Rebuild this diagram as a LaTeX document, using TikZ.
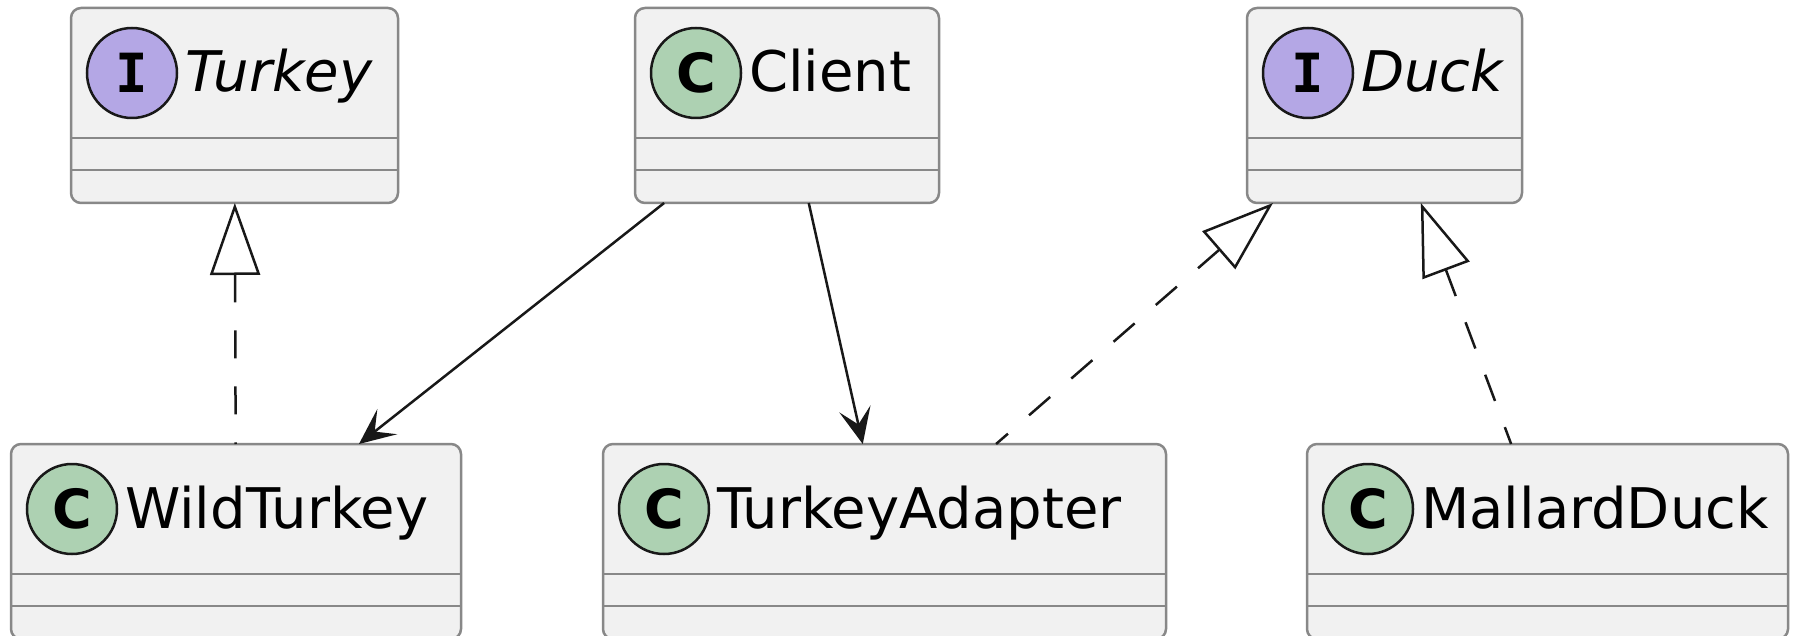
\documentclass[tikz,border=0pt]{standalone}
\usepackage{fontspec}
\setmainfont{DejaVu Sans}
\newfontfamily\badgefont{DejaVu Sans Mono}
\usetikzlibrary{arrows.meta}
\definecolor{boxfill}{HTML}{F1F1F1}
\definecolor{boxline}{HTML}{888888}
\definecolor{inkline}{HTML}{181818}
\definecolor{classgreen}{HTML}{ADD1B2}
\definecolor{ifacepurple}{HTML}{B4A7E5}
\tikzset{
  umlbox/.style={draw=boxline, fill=boxfill, line width=2.5pt, rounded corners=10pt,
    minimum height=195pt, inner sep=0pt, outer sep=0pt, anchor=north west},
  badge/.style={circle, draw=inkline, line width=2.5pt, minimum size=90pt, inner sep=0pt,
    font=\bfseries\fontsize{54}{54}\selectfont},
  title/.style={anchor=base west, inner sep=0pt, font=\fontsize{56}{60}\selectfont},
  uses/.style={draw=inkline, line width=2.5pt,
    -{Stealth[length=36pt, width=32pt, inset=16pt]}},
  realizes/.style={draw=inkline, line width=2.5pt, dash pattern=on 28pt off 28pt,
    {Triangle[open, length=72pt, width=50pt, fill=white]}-}
}
% name, left, top, width, letter, colour, title
\newcommand{\umlclass}[7]{%
  \node[umlbox, minimum width=#4pt] (#1) at (#2,#3) {};
  \draw[boxline, line width=2.5pt]
    ([yshift=-130pt]#1.north west) -- ([yshift=-130pt]#1.north east);
  \draw[boxline, line width=2.5pt]
    ([yshift=-162pt]#1.north west) -- ([yshift=-162pt]#1.north east);
  \node[badge, fill=#6] (#1-badge) at ([xshift=61pt, yshift=-65pt]#1.north west) {#5};
  \node[title] (#1-title) at ([xshift=114pt, yshift=-84pt]#1.north west) {#7};
}
\begin{document}
\begin{tikzpicture}[x=1pt, y=-1pt]
  \useasboundingbox (0,0) rectangle (1795,636);
  % interfaces and classes
  \umlclass{turkey}{71}{8}{327}{\badgefont I}{ifacepurple}{\itshape Turkey}
  \umlclass{client}{635}{8}{304}{C}{classgreen}{Client}
  \umlclass{duck}{1247}{8}{275}{\badgefont I}{ifacepurple}{\itshape Duck}
  \umlclass{wildturkey}{11}{444}{450}{C}{classgreen}{WildTurkey}
  \umlclass{adapter}{603}{444}{563}{C}{classgreen}{TurkeyAdapter}
  \umlclass{mallard}{1307}{444}{481}{C}{classgreen}{MallardDuck}
  % links
  \draw[realizes] (turkey) -- (wildturkey);
  \draw[uses] (client) -- (wildturkey);
  \draw[uses] (client) -- (adapter);
  \draw[realizes] (duck) -- (adapter);
  \draw[realizes] (duck) -- (mallard);
\end{tikzpicture}
\end{document}
